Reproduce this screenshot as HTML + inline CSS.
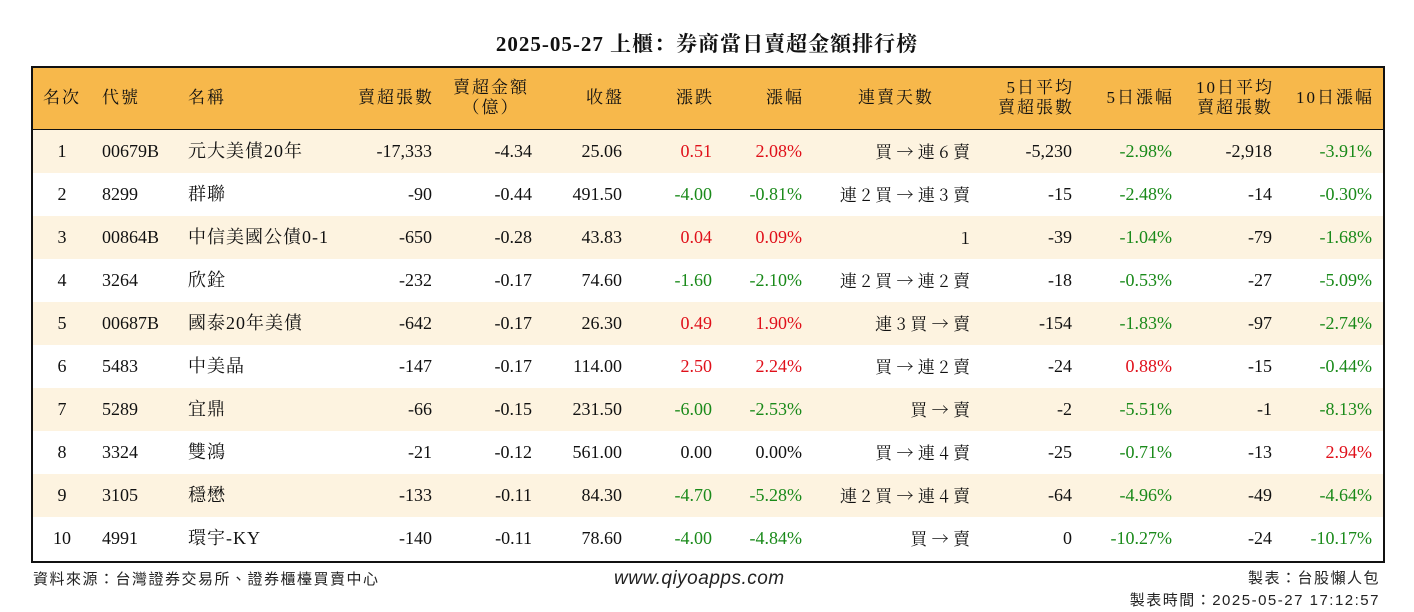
<!DOCTYPE html>
<html><head><meta charset="utf-8">
<style>
body{margin:0;width:1414px;height:612px;background:#fff;position:relative;overflow:hidden;font-family:"Liberation Serif","Noto Serif CJK SC","Noto Sans CJK TC",serif;color:#111}
.abs{position:absolute;white-space:nowrap}
#title{left:0;width:1414px;top:28px;text-align:center;font-size:21px;font-weight:bold;letter-spacing:1px}
#tbl{left:31px;top:66px;width:1350px;height:493px;border:2px solid #111}
#hdr{left:0;top:0;width:1350px;height:61px;background:#f7b84b;border-bottom:2px solid #111}
.h{font-size:17px;line-height:20px;letter-spacing:2px}
.c{font-size:18px;line-height:43px}
.red{color:#e0101a}.green{color:#1a8a1a}
.foot{font-size:15px;font-family:"Liberation Sans","Noto Sans CJK TC",sans-serif;color:#222;letter-spacing:1.5px}
</style></head><body>
<div id="title" class="abs">2025-05-27 上櫃：券商當日賣超金額排行榜</div>
<div id="tbl" class="abs">
<div id="hdr" class="abs"></div>
</div>
<div class="abs foot" style="left:33px;top:568px">資料來源：台灣證券交易所、證券櫃檯買賣中心</div>
<div class="abs foot" style="left:614px;top:568px;font-size:19px;font-style:italic;letter-spacing:0.5px">www.qiyoapps.com</div>
<div class="abs foot" style="right:34px;top:567px">製表：台股懶人包</div>
<div class="abs foot" style="right:34px;top:589px">製表時間：2025-05-27 17:12:57</div>
<script>
const codes=["00679B","8299","00864B","3264","00687B","5483","5289","3324","3105","4991"];
const names=["元大美債20年","群聯","中信美國公債0-1","欣銓","國泰20年美債","中美晶","宜鼎","雙鴻","穩懋","環宇-KY"];
const sellVol=["-17,333","-90","-650","-232","-642","-147","-66","-21","-133","-140"];
const sellAmt=["-4.34","-0.44","-0.28","-0.17","-0.17","-0.17","-0.15","-0.12","-0.11","-0.11"];
const close=["25.06","491.50","43.83","74.60","26.30","114.00","231.50","561.00","84.30","78.60"];
const chg=["0.51","-4.00","0.04","-1.60","0.49","2.50","-6.00","0.00","-4.70","-4.00"];
const pct=["2.08%","-0.81%","0.09%","-2.10%","1.90%","2.24%","-2.53%","0.00%","-5.28%","-4.84%"];
const streak=["買 → 連 6 賣","連 2 買 → 連 3 賣","1","連 2 買 → 連 2 賣","連 3 買 → 賣","買 → 連 2 賣","買 → 賣","買 → 連 4 賣","連 2 買 → 連 4 賣","買 → 賣"];
const avg5=["-5,230","-15","-39","-18","-154","-24","-2","-25","-64","0"];
const pct5=["-2.98%","-2.48%","-1.04%","-0.53%","-1.83%","0.88%","-5.51%","-0.71%","-4.96%","-10.27%"];
const avg10=["-2,918","-14","-79","-27","-97","-15","-1","-13","-49","-24"];
const pct10=["-3.91%","-0.30%","-1.68%","-5.09%","-2.74%","-0.44%","-8.13%","2.94%","-4.64%","-10.17%"];
const tbl=document.getElementById('tbl');
function colr(s){const v=parseFloat(s);return v>0?'red':v<0?'green':'';}
function put(txt,cls,style,name){const d=document.createElement('div');d.className='abs '+cls;d.style.cssText=style;d.textContent=txt;


tbl.appendChild(d);return d;}
const H=[["名次","left:10px;top:20px"],["代號","left:69px;top:20px"],["名稱","left:155px;top:20px"],["賣超張數","right:949px;top:20px"],
["賣超金額\n（億）","left:420px;top:10px;text-align:center;white-space:pre"],["收盤","right:759px;top:20px"],["漲跌","right:669px;top:20px"],["漲幅","right:579px;top:20px"],
["連賣天數","left:825px;top:20px"],["5日平均\n賣超張數","right:309px;top:10px;text-align:right;white-space:pre"],["5日漲幅","right:209px;top:20px"],
["10日平均\n賣超張數","right:109px;top:10px;text-align:center;white-space:pre"],["10日漲幅","right:9px;top:20px"]];
H.forEach((h,i)=>{put(h[0],'h',h[1],'header-'+i);});
for(let i=0;i<codes.length;i++){
 const top=62+i*43;
 const r=document.createElement('div');r.className='abs';r.style.cssText=`left:0;top:${top}px;width:1350px;height:43px;background:${i%2==0?'#fdf3e0':'#fff'}`;
 
 
 tbl.appendChild(r);
 const t=`top:${top}px;`;
 put(String(i+1),'c',t+'left:10px;width:38px;text-align:center','rank');
 put(codes[i],'c',t+'left:69px','code');
 put(names[i],'c',t+'left:155px;letter-spacing:1px','name');
 put(sellVol[i],'c',t+'right:951px','sell-volume');
 put(sellAmt[i],'c',t+'right:851px','sell-amount');
 put(close[i],'c',t+'right:761px','close-price');
 put(chg[i],'c '+colr(chg[i]),t+'right:671px','change');
 put(pct[i],'c '+colr(pct[i]),t+'right:581px','change-pct');
 put(streak[i],'c',t+'right:413px;font-family:"Noto Serif CJK SC","Liberation Serif",serif;font-size:17px;line-height:41px','sell-streak');
 put(avg5[i],'c',t+'right:311px','avg5-volume');
 put(pct5[i],'c '+colr(pct5[i]),t+'right:211px','pct5');
 put(avg10[i],'c',t+'right:111px','avg10-volume');
 put(pct10[i],'c '+colr(pct10[i]),t+'right:11px','pct10');
}
</script>
</body></html>
